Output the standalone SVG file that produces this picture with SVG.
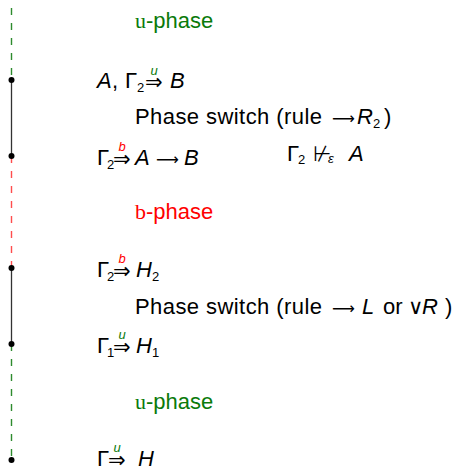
<svg xmlns="http://www.w3.org/2000/svg" width="457" height="470" viewBox="0 0 457 470">
<style>
.t{font-family:"Liberation Sans",Arial,sans-serif;font-size:22px;fill:#000}
.i{font-style:italic}
.n{font-style:normal}
.s{font-size:13px}
.ar{font-family:"DejaVu Sans",sans-serif;font-size:21px}
.la{font-family:"DejaVu Sans",sans-serif;font-size:16px}
.lab{font-family:"Liberation Sans",Arial,sans-serif;font-style:italic;font-size:13px}
.g{fill:#0a7a0a}
.r{fill:#ff0000}
.fr{font-family:"Liberation Serif","Times New Roman",serif}
.solid{stroke:#333;stroke-width:1.3;fill:none}
.dg{stroke:#2e8b2e;stroke-width:1.4;stroke-dasharray:7 8;fill:none}
.dr{stroke:#ff4d4d;stroke-width:1.4;stroke-dasharray:7 8;fill:none}
.dot{fill:#000}
</style>
<g id="connectors">
<line class="dg" x1="11.5" y1="8" x2="11.5" y2="80"/>
<line class="solid" x1="11.5" y1="80" x2="11.5" y2="156"/>
<line class="dr" x1="11.5" y1="156" x2="11.5" y2="268"/>
<line class="solid" x1="11.5" y1="268" x2="11.5" y2="344"/>
<line class="dg" x1="11.5" y1="344" x2="11.5" y2="460"/>
<circle class="dot" cx="11.5" cy="80" r="3"/>
<circle class="dot" cx="11.5" cy="156" r="3"/>
<circle class="dot" cx="11.5" cy="268" r="3"/>
<circle class="dot" cx="11.5" cy="344" r="3"/>
<circle class="dot" cx="11.5" cy="460" r="3"/>
</g>
<g id="phase1"><text class="t g" x="135" y="28"><tspan class="fr">u</tspan>-phase</text></g>
<g id="seq1">
<text class="t"><tspan class="i" x="97" y="88">A</tspan><tspan x="112">,</tspan><tspan x="125">Γ</tspan><tspan class="s" x="137" dy="4">2</tspan></text>
<text class="ar" x="145" y="89">⇒</text>
<text class="lab g" x="150.5" y="75">u</text>
<text class="t i" x="170" y="88">B</text>
</g>
<g id="switch1"><text class="t"><tspan x="135" y="124" textLength="187" lengthAdjust="spacing">Phase switch (rule</tspan><tspan class="la" x="332">⟶</tspan><tspan class="i" x="357">R</tspan><tspan class="s" x="373" dy="4">2</tspan><tspan x="384" dy="-4">)</tspan></text></g>
<g id="seq2">
<text class="t"><tspan x="97" y="165">Γ</tspan><tspan class="s" x="107" dy="4">2</tspan></text>
<text class="ar" x="113" y="166">⇒</text>
<text class="lab r" x="118.5" y="151">b</text>
<text class="t"><tspan class="i" x="135" y="165">A</tspan><tspan class="la" x="156">⟶</tspan><tspan class="i" x="184">B</tspan></text>
</g>
<g id="notprov"><text class="t"><tspan x="287" y="161">Γ</tspan><tspan class="s" x="298" dy="3">2</tspan><tspan class="ar" x="313" dy="-3" font-size="19">⊬</tspan><tspan class="s i" x="328" dy="2">ε</tspan><tspan class="i" x="349" dy="-2">A</tspan></text></g>
<g id="phase2"><text class="t r" x="135" y="219"><tspan class="fr">b</tspan>-phase</text></g>
<g id="seq3">
<text class="t"><tspan x="97" y="277">Γ</tspan><tspan class="s" x="107" dy="4">2</tspan></text>
<text class="ar" x="113" y="278">⇒</text>
<text class="lab r" x="118.5" y="263">b</text>
<text class="t i"><tspan x="136" y="277">H</tspan><tspan class="s n" x="152" dy="4">2</tspan></text>
</g>
<g id="switch2"><text class="t"><tspan x="135" y="314" textLength="187" lengthAdjust="spacing">Phase switch (rule</tspan><tspan class="la" x="332">⟶</tspan><tspan class="i" x="362">L</tspan><tspan x="383">or</tspan><tspan class="ar" x="408" font-size="17">∨</tspan><tspan class="i" x="422">R</tspan><tspan x="445">)</tspan></text></g>
<g id="seq4">
<text class="t"><tspan x="97" y="353">Γ</tspan><tspan class="s" x="107" dy="4">1</tspan></text>
<text class="ar" x="113" y="354">⇒</text>
<text class="lab g" x="118.5" y="339">u</text>
<text class="t i"><tspan x="136" y="353">H</tspan><tspan class="s n" x="152" dy="4">1</tspan></text>
</g>
<g id="phase3"><text class="t g" x="135" y="409"><tspan class="fr">u</tspan>-phase</text></g>
<g id="seq5">
<text class="t" x="97" y="466">Γ</text>
<text class="ar" x="108" y="467">⇒</text>
<text class="lab g" x="113.5" y="452">u</text>
<text class="t i" x="138" y="466">H</text>
</g>
</svg>
